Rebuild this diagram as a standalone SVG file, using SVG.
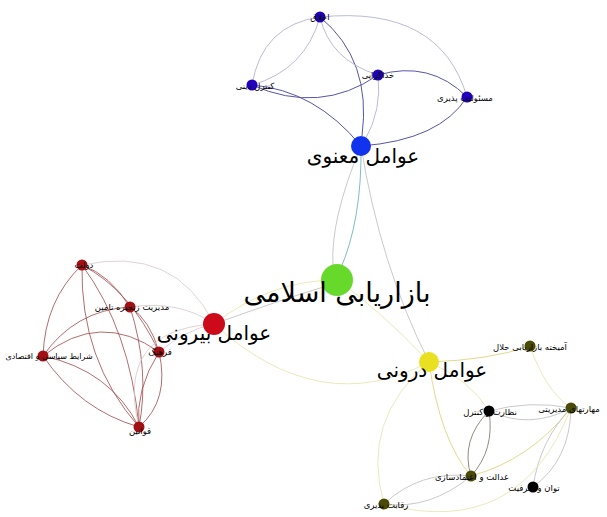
<svg xmlns="http://www.w3.org/2000/svg" width="607" height="517" viewBox="0 0 607 517">
<style>
text{font-family:"DejaVu Sans",sans-serif;text-anchor:middle;fill:#000}
.s{font-size:8.5px}
.m{font-size:20px}
.c{font-size:27px}
path{fill:none;stroke-width:0.8}
.bl{stroke:#aaaacc}
.bd{stroke:#5555aa;stroke-width:1}
.rd{stroke:#a04848}
.rl{stroke:#d8c8c8}
.yl{stroke:#e6e2a8}
.yd{stroke:#d8d070}
.g{stroke:#bbbbbb}
.gd{stroke:#707060}
</style>
<rect width="607" height="517" fill="#fff"/>
<g id="connectors">
<path class="bl" d="M320,17 Q262,25 252,85"/>
<path class="bl" d="M320,17 Q305,70 252,85"/>
<path class="bl" d="M320,17 Q440,5 467,97"/>
<path class="bd" d="M320,17 Q372,60 362,136"/>
<path class="bl" d="M320,17 Q330,60 378,75"/>
<path class="bd" d="M252,85 Q320,115 378,75"/>
<path class="bd" d="M252,85 Q315,90 361,146"/>
<path class="bd" d="M378,75 Q430,60 467,97"/>
<path class="bl" d="M378,75 Q382,110 365,140"/>
<path class="bd" d="M467,97 Q440,140 361,146"/>
<path stroke="#60a8b8" d="M361,146 Q362,220 340,270"/>
<path class="g" d="M361,146 Q330,220 333,266"/>
<path class="g" d="M361,146 Q380,265 429,362"/>
<path class="rd" d="M82,265 Q110,275 130,307"/>
<path class="rd" d="M82,265 Q45,300 43,356"/>
<path class="rd" d="M82,265 Q130,290 159,352"/>
<path class="rd" d="M82,265 Q80,360 139,427"/>
<path class="rd" d="M82,265 Q130,330 139,427"/>
<path class="rl" d="M82,265 Q175,245 214,324"/>
<path class="rd" d="M130,307 Q75,310 43,356"/>
<path class="rd" d="M130,307 Q150,370 139,427"/>
<path class="rd" d="M130,307 Q150,320 159,352"/>
<path class="rl" d="M130,307 Q180,300 214,324"/>
<path class="rd" d="M43,356 Q100,310 159,352"/>
<path class="rd" d="M43,356 Q110,370 139,427"/>
<path class="rd" d="M43,356 Q80,410 139,427"/>
<path class="rd" d="M159,352 Q170,400 139,427"/>
<path class="rd" d="M159,352 Q135,390 139,427"/>
<path class="rl" d="M159,352 Q185,330 214,324"/>
<path class="rl" d="M139,427 Q115,330 214,324"/>
<path class="yl" d="M214,324 Q270,280 337,280"/>
<path class="g" d="M214,324 Q280,300 330,285"/>
<path class="yl" d="M214,324 Q320,420 429,362"/>
<path class="yl" d="M429,362 Q380,310 337,280"/>
<path class="yd" d="M429,362 Q490,360 530,346"/>
<path class="yl" d="M429,362 Q360,420 384,504"/>
<path class="yd" d="M429,362 Q440,440 471,476"/>
<path class="yl" d="M429,362 Q470,380 489,411"/>
<path class="yl" d="M530,346 Q545,390 571,408"/>
<path class="gd" d="M489,411 Q460,440 471,476"/>
<path class="gd" d="M489,411 Q495,450 471,476"/>
<path class="g" d="M489,411 Q530,430 571,408"/>
<path class="g" d="M489,411 Q530,400 571,408"/>
<path class="yd" d="M571,408 Q530,460 471,476"/>
<path class="g" d="M571,408 Q540,440 533,487"/>
<path class="g" d="M571,408 Q570,460 533,487"/>
<path class="yl" d="M571,408 Q520,540 384,504"/>
<path class="g" d="M471,476 Q420,470 384,504"/>
<path class="g" d="M471,476 Q430,510 384,504"/>
</g>
<g id="n-center"><circle cx="337" cy="280" r="16" fill="#66d92b"/><text class="c" x="337" y="302">بازاریابی اسلامی</text></g>
<g id="n-manavi"><circle cx="361" cy="146" r="10" fill="#1133ee"/><text class="m" x="363" y="163">عوامل معنوی</text></g>
<g id="n-akhlagh"><circle cx="320" cy="17" r="5.5" fill="#2200bb"/><text class="s" x="320" y="20">اخلاق</text></g>
<g id="n-kontrol"><circle cx="252" cy="85" r="5.5" fill="#2200bb"/><text class="s" x="255" y="89">کنترل دینی</text></g>
<g id="n-khoda"><circle cx="378" cy="75" r="5.5" fill="#2200bb"/><text class="s" x="378" y="78">خداگرایی</text></g>
<g id="n-masool"><circle cx="467" cy="97" r="5.5" fill="#2200bb"/><text class="s" x="465" y="101">مسئولیت پذیری</text></g>
<g id="n-biruni"><circle cx="214" cy="324" r="11" fill="#cc0a1a"/><text class="m" x="214" y="340">عوامل بیرونی</text></g>
<g id="n-dolat"><circle cx="82" cy="265" r="5.5" fill="#a01015"/><text class="s" x="84" y="268">دولت</text></g>
<g id="n-modiriat"><circle cx="130" cy="307" r="5.5" fill="#a01015"/><text class="s" x="132" y="310">مدیریت زنجیره تامین</text></g>
<g id="n-sharayet"><circle cx="43" cy="356" r="5.5" fill="#a01015"/><text class="s" x="49" y="359" style="font-size:8px">شرایط سیاسی و اقتصادی</text></g>
<g id="n-farhang"><circle cx="159" cy="352" r="5.5" fill="#a01015"/><text class="s" x="160" y="355">فرهنگ</text></g>
<g id="n-ghavanin"><circle cx="139" cy="427" r="5.5" fill="#a01015"/><text class="s" x="140" y="434">قوانین</text></g>
<g id="n-daruni"><circle cx="429" cy="362" r="10" fill="#e8e020"/><text class="m" x="432" y="377">عوامل درونی</text></g>
<g id="n-amikhte"><circle cx="530" cy="346" r="5.5" fill="#4a4a08"/><text class="s" x="530" y="350">آمیخته بازاریابی حلال</text></g>
<g id="n-maharat"><circle cx="571" cy="408" r="5.5" fill="#4a4a08"/><text class="s" x="569" y="412">مهارتهای مدیریتی</text></g>
<g id="n-nezarat"><circle cx="489" cy="411" r="5.5" fill="#000"/><text class="s" x="490" y="415">نظارت و کنترل</text></g>
<g id="n-edalat"><circle cx="471" cy="476" r="5.5" fill="#4a4a08"/><text class="s" x="472" y="480">عدالت و اعتمادسازی</text></g>
<g id="n-tavan"><circle cx="533" cy="487" r="5.5" fill="#000"/><text class="s" x="534" y="491">توان و ظرفیت</text></g>
<g id="n-reghabat"><circle cx="384" cy="504" r="5.5" fill="#4a4a08"/><text class="s" x="386" y="508">رقابت پذیری</text></g>
</svg>
